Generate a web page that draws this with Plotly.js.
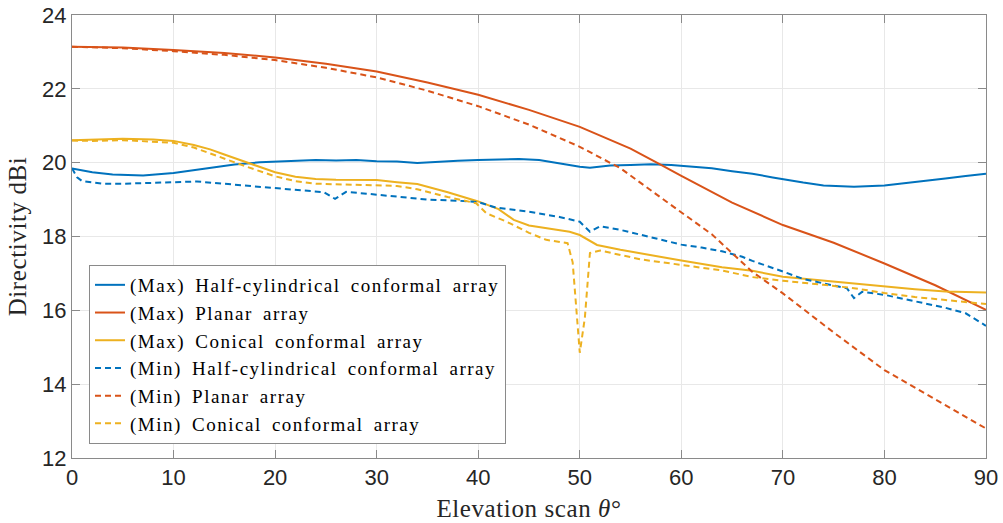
<!DOCTYPE html>
<html><head><meta charset="utf-8">
<script src="https://cdn.plot.ly/plotly-3.0.1.min.js"></script>
<style>
html,body{margin:0;padding:0;background:#fff}#chart{width:1003px;height:523px}
.legendtext{letter-spacing:1.5px;word-spacing:4px}
.xtitle,.ytitle{letter-spacing:0.6px}
</style>
</head><body><div id="chart"></div>
<script>
const legendNames = [
  "(Max) Half-cylindrical conformal array",
  "(Max) Planar array",
  "(Max) Conical conformal array",
  "(Min) Half-cylindrical conformal array",
  "(Min) Planar array",
  "(Min) Conical conformal array"
];
const colors = ["#0072BD", "#D95319", "#EDB120"];

const maxHalfX = [0,2,4,7,10,12,14,16,18.5,20,22,24,26,28,30,32,34,36,38,40,42,44,46,48,50,51,53,55,57,59,61,63,65,67,69,71,72,74,77,80,82,84,86,88,90];
const maxHalfY = [19.84,19.74,19.68,19.65,19.72,19.80,19.88,19.95,20.01,20.03,20.06,20.07,20.06,20.07,20.04,20.03,19.99,20.03,20.05,20.07,20.08,20.10,20.07,19.97,19.89,19.86,19.92,19.94,19.96,19.94,19.89,19.85,19.77,19.70,19.60,19.50,19.46,19.38,19.35,19.38,19.44,19.49,19.57,19.64,19.70];

const maxPlanarX = [0,5,10,15,20,25,30,35,40,45,50,55,58,60,65,70,75,80,85,90];
const maxPlanarY = [23.14,23.12,23.05,22.97,22.85,22.68,22.47,22.17,21.84,21.43,20.97,20.38,19.94,19.64,18.92,18.31,17.83,17.27,16.68,16.01];

const maxConicalX = [0,2,5,8,10,12,13.6,15,17.2,19,20,22,24,26,30,32,34,37,40,42,43.5,45,47,49,50,51.7,54,57,60,64,67,70,74,77,80,83,86,90];
const maxConicalY = [20.61,20.62,20.65,20.63,20.59,20.48,20.36,20.22,20.00,19.83,19.74,19.62,19.56,19.54,19.53,19.47,19.42,19.20,18.95,18.74,18.45,18.30,18.22,18.13,18.04,17.77,17.64,17.49,17.35,17.17,17.07,16.91,16.80,16.73,16.65,16.57,16.51,16.48];

const minHalfX = [0,0.5,1,3,5,7,10,12.3,14,16,18,20,22,24.8,25.9,27,29,32,35,38,40,41.8,45,48,50,51,52,54,56.6,60,62,64,66,67,70,72,74,76.3,77,77.8,80,82,84,86,88,89.7,90];
const minHalfY = [19.85,19.60,19.50,19.43,19.43,19.44,19.47,19.49,19.45,19.40,19.36,19.31,19.27,19.20,19.02,19.21,19.16,19.08,19.00,18.97,18.93,18.78,18.67,18.53,18.40,18.13,18.28,18.18,18.00,17.78,17.70,17.60,17.45,17.34,17.05,16.85,16.73,16.60,16.33,16.50,16.42,16.30,16.18,16.07,15.92,15.65,15.58];

const minPlanarX = [0,5,10,15,20,25,30,35,40,45,50,54,58,60,63,65,67,70,75,80,85,90];
const minPlanarY = [23.14,23.10,23.02,22.92,22.78,22.57,22.31,21.95,21.53,21.03,20.43,19.85,19.05,18.65,18.06,17.55,17.04,16.46,15.40,14.38,13.59,12.80];

const minConicalX = [0,2,5,8,10,12,13.6,15,17.2,20,22,24,27,30,32,34,37,39.8,40.8,42.8,45,46.7,48.8,49.3,50,50.5,51,52,56,60,64,67,70,74,77,80,83,86,90];
const minConicalY = [20.60,20.59,20.61,20.58,20.54,20.41,20.25,20.10,19.89,19.63,19.50,19.43,19.41,19.40,19.37,19.28,19.07,18.90,18.63,18.40,18.10,17.91,17.82,17.30,14.85,15.80,17.55,17.62,17.38,17.23,17.08,16.90,16.80,16.69,16.60,16.47,16.36,16.28,16.17];

const xTicks = [0,10,20,30,40,50,60,70,80,90];
const yTicks = [12,14,16,18,20,22,24];

const series = [
  [maxHalfX, maxHalfY, colors[0], "solid"],
  [maxPlanarX, maxPlanarY, colors[1], "solid"],
  [maxConicalX, maxConicalY, colors[2], "solid"],
  [minHalfX, minHalfY, colors[0], "6px,4px"],
  [minPlanarX, minPlanarY, colors[1], "6px,4px"],
  [minConicalX, minConicalY, colors[2], "6px,4px"]
];
const traces = series.map((s, i) => ({
  x: s[0], y: s[1], type: "scatter", mode: "lines", name: legendNames[i],
  line: {color: s[2], width: 2, dash: s[3]}
}));

const serif = "Liberation Serif";
const tickFont = {family: "Liberation Sans", size: 22, color: "#262626"};
const titleFont = {family: serif, size: 25, color: "#262626"};
const axisCommon = {
  showline: true, linecolor: "#8a8a8a", linewidth: 1, mirror: "ticks",
  ticks: "inside", ticklen: 8, tickcolor: "#8a8a8a",
  showgrid: true, gridcolor: "#e8e8e8", gridwidth: 1, zeroline: false,
  tickfont: tickFont
};
const layout = {
  width: 1003, height: 523,
  font: {family: serif, size: 19, color: "#000"},
  margin: {l: 72, r: 17, t: 15, b: 65},
  paper_bgcolor: "#fff", plot_bgcolor: "#fff",
  xaxis: Object.assign({}, axisCommon, {
    range: [0, 90], tickvals: xTicks, ticktext: xTicks.map(String),
    title: {text: "Elevation scan <i>θ</i>°", font: titleFont, standoff: 10}
  }),
  yaxis: Object.assign({}, axisCommon, {
    range: [12, 24], tickvals: yTicks, ticktext: yTicks.map(String),
    title: {text: "Directivity dBi", font: titleFont, standoff: 8}
  }),
  legend: {
    x: 0.0186, y: 0.4357, xanchor: "left", yanchor: "top",
    bgcolor: "#fff", bordercolor: "#8a8a8a", borderwidth: 1,
    font: {family: serif, size: 19, color: "#000"},
    tracegroupgap: 0, itemwidth: 30
  },
  showlegend: true
};
Plotly.newPlot("chart", traces, layout, {displayModeBar: false, staticPlot: true});
</script>
</body></html>
